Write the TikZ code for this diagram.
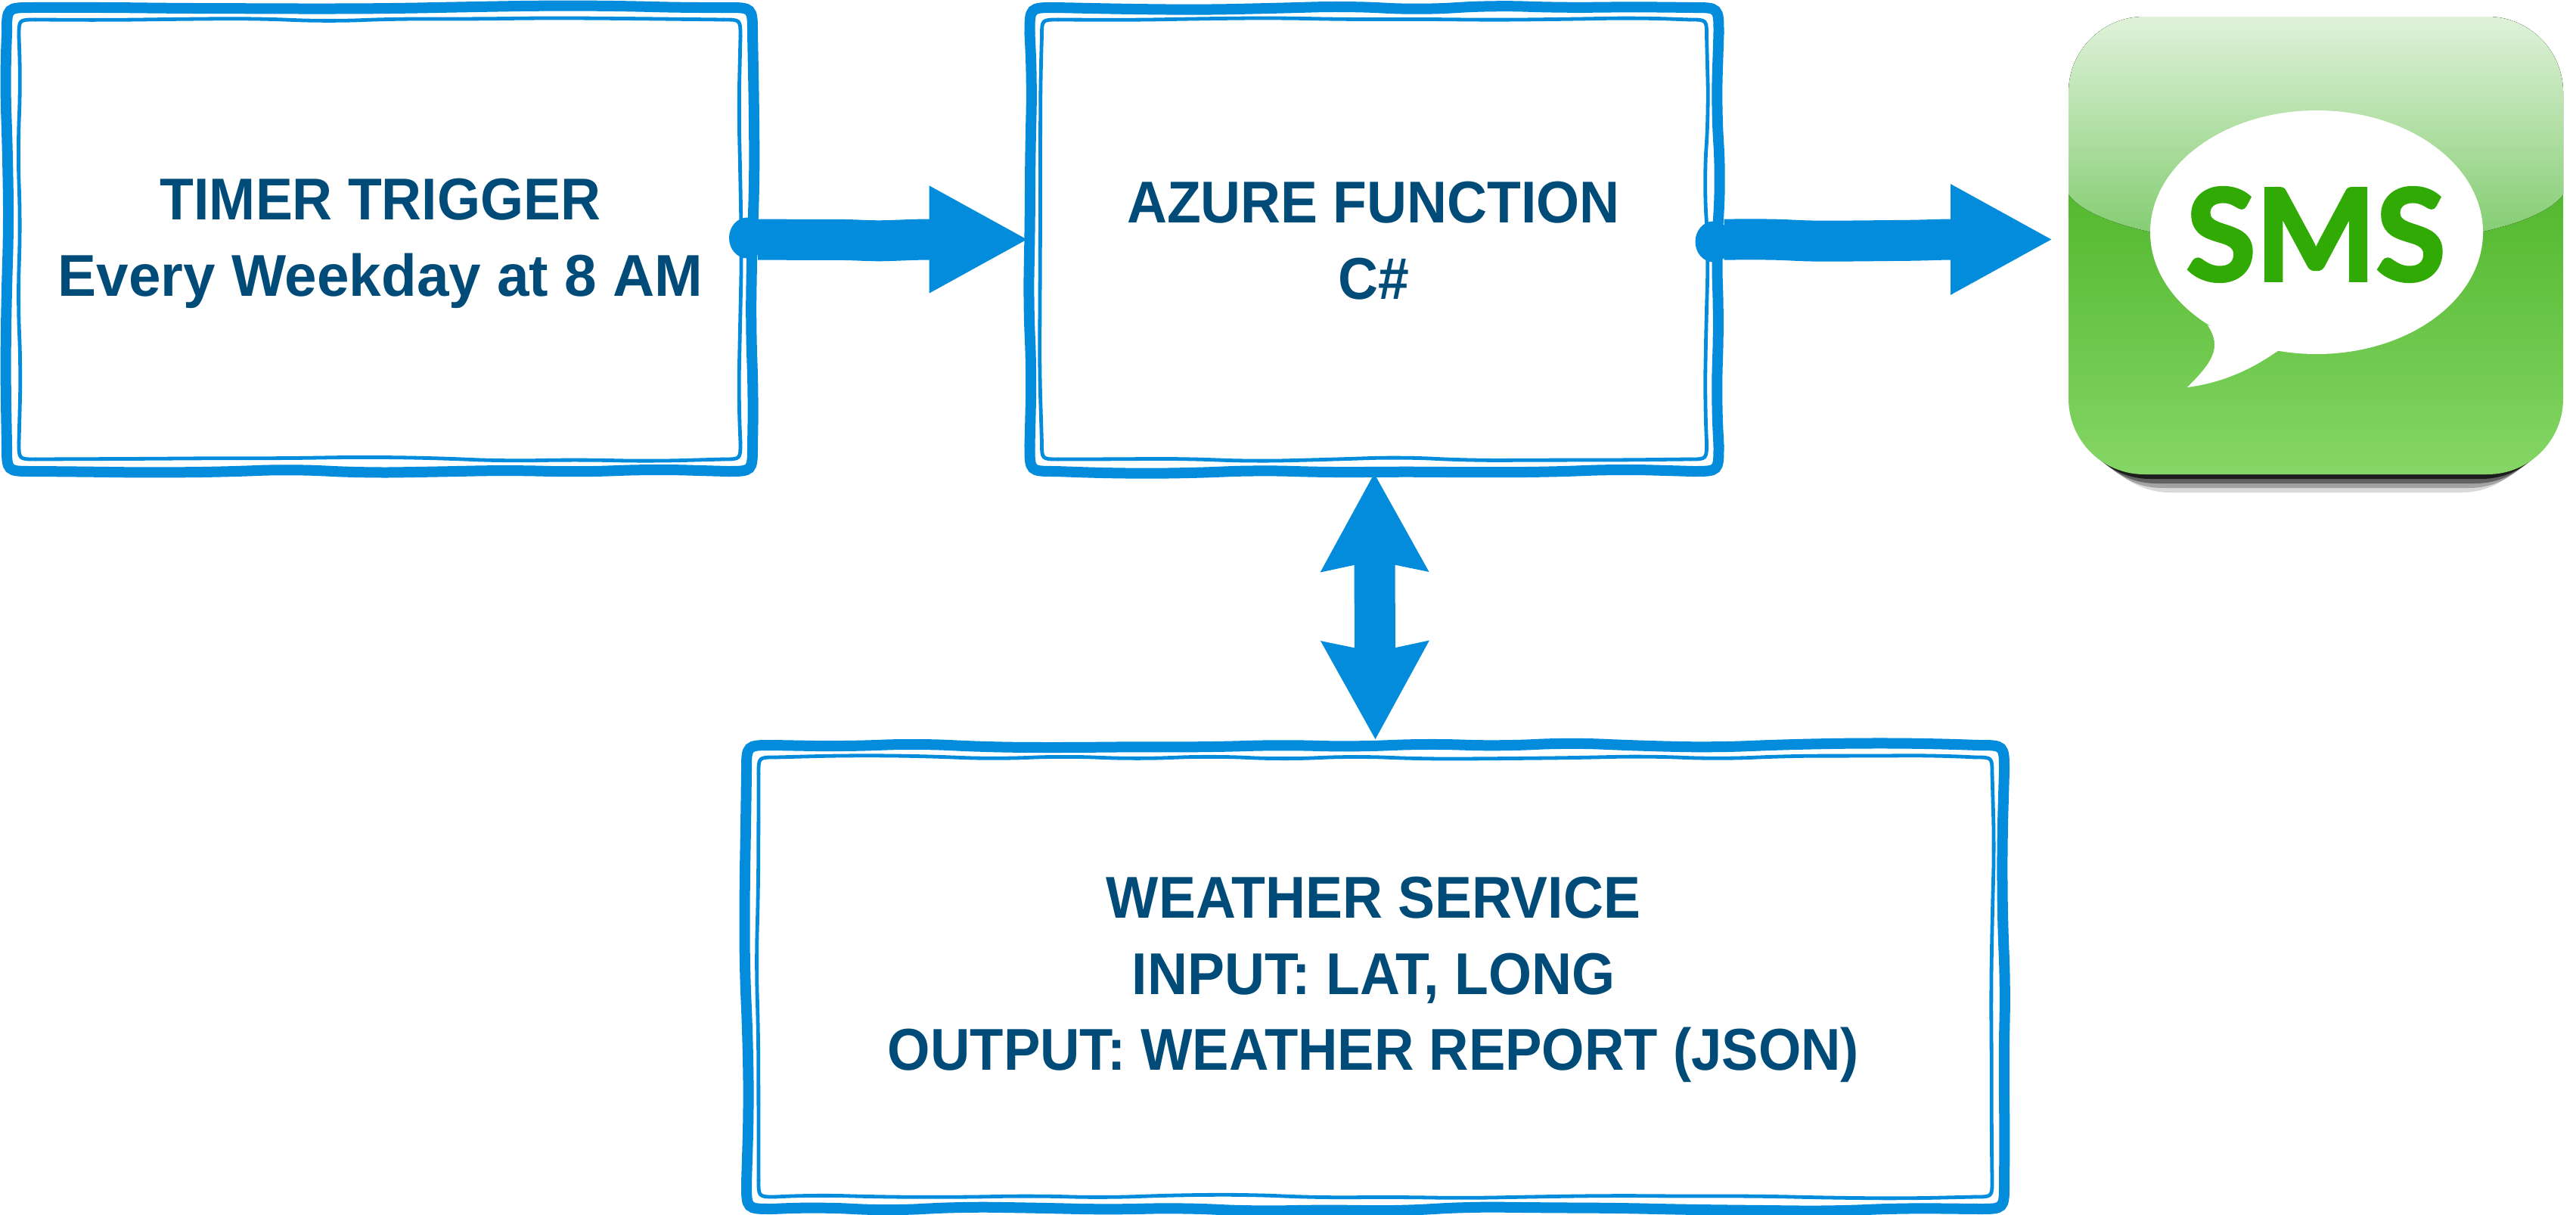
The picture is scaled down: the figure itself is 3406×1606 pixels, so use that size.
\documentclass[tikz,border=0pt]{standalone}
\usepackage{fontspec}
\setmainfont{Liberation Sans}[FakeStretch=0.94]
\newfontfamily\smsfont{Lato}[BoldFeatures={FakeBold=2.5}]
\usetikzlibrary{arrows.meta,calc,decorations.pathmorphing}
\definecolor{boxblue}{RGB}{3,140,220}
\definecolor{labelblue}{RGB}{0,75,120}
\definecolor{smsgreen}{RGB}{50,170,5}
\tikzset{
  sketchline/.style={draw=boxblue,line cap=round},
  sketchside/.style={decorate,rounded corners=10pt,
    decoration={random steps,segment length=24pt,amplitude=0.8pt}},
  sketchouter/.style={sketchline,line width=3.5pt},
  sketchinner/.style={sketchline,line width=1.2pt},
  boxnode/.style={rectangle,inner sep=0pt,outer sep=0pt},
  boxtext/.style={align=center,text=labelblue,font=\fontsize{19.5}{25.2}\selectfont\bfseries},
  flowarrow/.style={draw=boxblue,line width=13.5pt,decorate,rounded corners=4pt,
    decoration={random steps,segment length=12pt,amplitude=0.7pt,pre length=36pt,post length=36pt}},
}
% wobbly outline round a node: node, inset, corner radius, style
\newcommand{\sketchrect}[4]{
  \draw[#4,sketchside] ($(#1.north west)+(#2+#3,#2)$) -- ($(#1.north east)+(-#2-#3,#2)$);
  \draw[#4,sketchside] ($(#1.north east)+(-#2,#2+#3)$) -- ($(#1.south east)+(-#2,-#2-#3)$);
  \draw[#4,sketchside] ($(#1.south east)+(-#2-#3,-#2)$) -- ($(#1.south west)+(#2+#3,-#2)$);
  \draw[#4,sketchside] ($(#1.south west)+(#2,-#2-#3)$) -- ($(#1.north west)+(#2,#2+#3)$);
  \draw[#4] ($(#1.north east)+(-#2-#3,#2)$) .. controls ($(#1.north east)+(-#2,#2)$) .. ($(#1.north east)+(-#2,#2+#3)$);
  \draw[#4] ($(#1.south east)+(-#2,-#2-#3)$) .. controls ($(#1.south east)+(-#2,-#2)$) .. ($(#1.south east)+(-#2-#3,-#2)$);
  \draw[#4] ($(#1.south west)+(#2+#3,-#2)$) .. controls ($(#1.south west)+(#2,-#2)$) .. ($(#1.south west)+(#2,-#2-#3)$);
  \draw[#4] ($(#1.north west)+(#2,#2+#3)$) .. controls ($(#1.north west)+(#2,#2)$) .. ($(#1.north west)+(#2+#3,#2)$);
}
\begin{document}
\begin{tikzpicture}[x=0.25pt,y=0.25pt,yscale=-1,xscale=1]
\pgfmathsetseed{11}
\useasboundingbox (0,0) rectangle (3406,1606);

%Boxes
\node[boxnode,minimum width=250pt,minimum height=156.75pt] (timer) at (502,316.5) {};
\node[boxnode,minimum width=231.25pt,minimum height=156.75pt] (azure) at (1817,316.5) {};
\node[boxnode,minimum width=419.25pt,minimum height=156.75pt] (weather) at (1818.5,1291.5) {};
\foreach \boxname in {timer,azure,weather}{
  \sketchrect{\boxname}{7}{34}{sketchouter}
  \sketchrect{\boxname}{23}{22}{sketchinner}
}

%Labels
\node[boxtext] (timertext) at (503,322) {TIMER TRIGGER\\\addfontfeatures{FakeStretch=0.98}Every Weekday at 8 AM};
\node[boxtext] (azuretext) at (1816,318) {AZURE FUNCTION\\C\#};
\node[boxtext] (weathertext) at (1816,1295) {WEATHER SERVICE\\INPUT: LAT, LONG\\\addfontfeatures{FakeStretch=0.93}OUTPUT: WEATHER REPORT (JSON)};

%SMS icon
\foreach \off/\ins/\op in {24/34/0.15,18/24/0.25,12/16/0.4,6/8/0.7}
  \fill[black,opacity=\op,rounded corners=25pt] (2735+\ins,300) rectangle (3389-\ins,627+\off);
\node[boxnode,outer sep=5pt,rounded corners=25pt,minimum width=163.5pt,minimum height=151.25pt,
  top color={rgb,255:red,52;green,165;blue,12},bottom color={rgb,255:red,133;green,214;blue,102}] (sms) at (3062,324.5) {};
\begin{scope}
\clip[rounded corners=25pt] (2735,22) rectangle (3389,627);
\fill[top color={rgb,255:red,224;green,242;blue,218},bottom color={rgb,255:red,120;green,200;blue,100}]
  (2735,22) -- (3389,22) -- (3389,257) .. controls (3321,350) and (2803,350) .. (2735,257) -- cycle;
\end{scope}
\fill[white] (3063,307) ellipse (220 and 161);
\fill[white] (2919,430) .. controls (2939,460) and (2924,480) .. (2892,512)
  .. controls (2944,505) and (2984,485) .. (3024,455) -- cycle;
\node[text=smsgreen,font=\fontsize{42}{42}\smsfont\bfseries] (smstext) at (3062,310) {SMS};

%Arrows
\fill[boxblue] ($(timer.east)+(-14,-2)$) ellipse (24 and 27);
\fill[boxblue] ($(azure.east)+(-14,3)$) ellipse (24 and 27);
\draw[flowarrow,decoration={pre length=4pt},-{Triangle[length=33pt,width=33pt]}] (timer.east) -- ($(azure.west)+(6,0)$);
\draw[flowarrow,decoration={pre length=4pt},-{Triangle[length=34pt,width=34pt]}] (azure.east) -- (sms.west |- azure.east);
\draw[flowarrow,{Stealth[length=32pt,width=34pt,inset=3pt]}-{Stealth[length=32pt,width=34pt,inset=3pt]}] ($(azure.south)+(0,-5)$) -- (weather.north);

\end{tikzpicture}
\end{document}
